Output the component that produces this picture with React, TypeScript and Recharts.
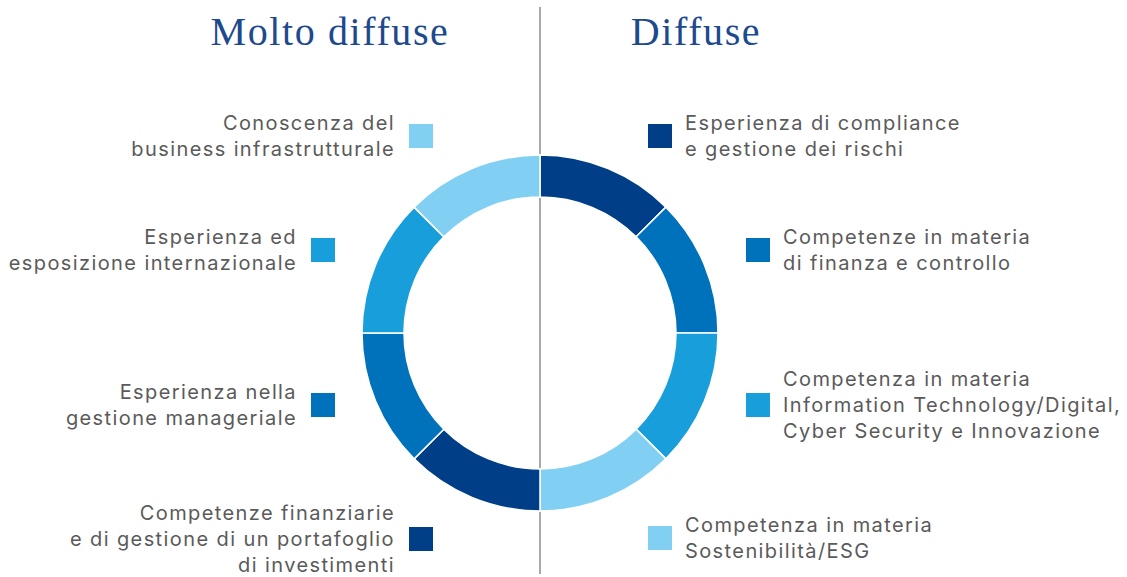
import { Cell, Customized, Pie, PieChart } from 'recharts'

// segment order: clockwise from 12 o'clock
const skills = [
  'Esperienza di compliance\ne gestione dei rischi',
  'Competenze in materia\ndi finanza e controllo',
  'Competenza in materia\nInformation Technology/Digital,\nCyber Security e Innovazione',
  'Competenza in materia\nSostenibilità/ESG',
  'Competenze finanziarie\ne di gestione di un portafoglio\ndi investimenti',
  'Esperienza nella\ngestione manageriale',
  'Esperienza ed\nesposizione internazionale',
  'Conoscenza del\nbusiness infrastrutturale',
]
const weights = [1, 1, 1, 1, 1, 1, 1, 1]
const groups = ['Diffuse', 'Diffuse', 'Diffuse', 'Diffuse', 'Molto diffuse', 'Molto diffuse', 'Molto diffuse', 'Molto diffuse']
const titles = ['Molto diffuse', 'Diffuse']

const COLORS = ['#003f87', '#0071bb', '#189fdb', '#82cff4', '#003f87', '#0071bb', '#189fdb', '#82cff4']

// legend placement (square left x, block center y) per segment
const LEGEND_POS = [
  { x: 648, y: 136 },
  { x: 746, y: 250 },
  { x: 746, y: 405 },
  { x: 648, y: 538 },
  { x: 409, y: 539 },
  { x: 311, y: 405 },
  { x: 311, y: 250 },
  { x: 409, y: 136 },
]

const W = 1127
const H = 577
const CX = 540
const CY = 333
const SQ = 24
const LINE_H = 26
const FONT = 'Inter, "Noto Sans", sans-serif'

const data = skills.map((s, i) => ({ name: s, value: weights[i], group: groups[i] }))

function Overlay() {
  return (
    <g>
      <line x1={CX} y1={7} x2={CX} y2={574} stroke="#a9a9a9" strokeWidth={2} />
      {titles.map((t, i) => (
        <text
          key={t}
          x={i === 0 ? 330 : 696}
          y={45}
          textAnchor="middle"
          fill="#1d4a8c"
          fontFamily='"Liberation Serif", "DejaVu Serif", serif'
          fontSize={40}
          letterSpacing={1.6}
        >
          {t}
        </text>
      ))}
      {data.map((d, i) => {
        const p = LEGEND_POS[i]
        const left = d.group === 'Molto diffuse'
        const lines = d.name.split('\n')
        const tx = left ? p.x - 14 : p.x + SQ + 13
        const firstBase = p.y - ((lines.length - 1) * LINE_H) / 2 + 7
        return (
          <g key={i}>
            <rect x={p.x} y={p.y - SQ / 2} width={SQ} height={SQ} fill={COLORS[i]} />
            <text
              x={tx}
              textAnchor={left ? 'end' : 'start'}
              fill="#5a5a5a"
              fontFamily={FONT}
              fontSize={20}
              letterSpacing={1.4}
            >
              {lines.map((l, j) => (
                <tspan key={j} x={tx} y={firstBase + j * LINE_H}>
                  {l}
                </tspan>
              ))}
            </text>
          </g>
        )
      })}
    </g>
  )
}

export default function App() {
  return (
    <div style={{ position: 'absolute', left: 0, top: 0, width: W, height: H, background: '#fff' }}>
      <PieChart width={W} height={H} margin={{ top: 0, right: 0, bottom: 0, left: 0 }}>
        <Pie
          data={data}
          dataKey="value"
          nameKey="name"
          cx={CX}
          cy={CY}
          innerRadius={136}
          outerRadius={178}
          startAngle={90}
          endAngle={-270}
          stroke="#ffffff"
          strokeWidth={1.5}
          isAnimationActive={false}
        >
          {data.map((_, i) => (
            <Cell key={i} fill={COLORS[i]} />
          ))}
        </Pie>
        <Customized component={Overlay} />
      </PieChart>
    </div>
  )
}
